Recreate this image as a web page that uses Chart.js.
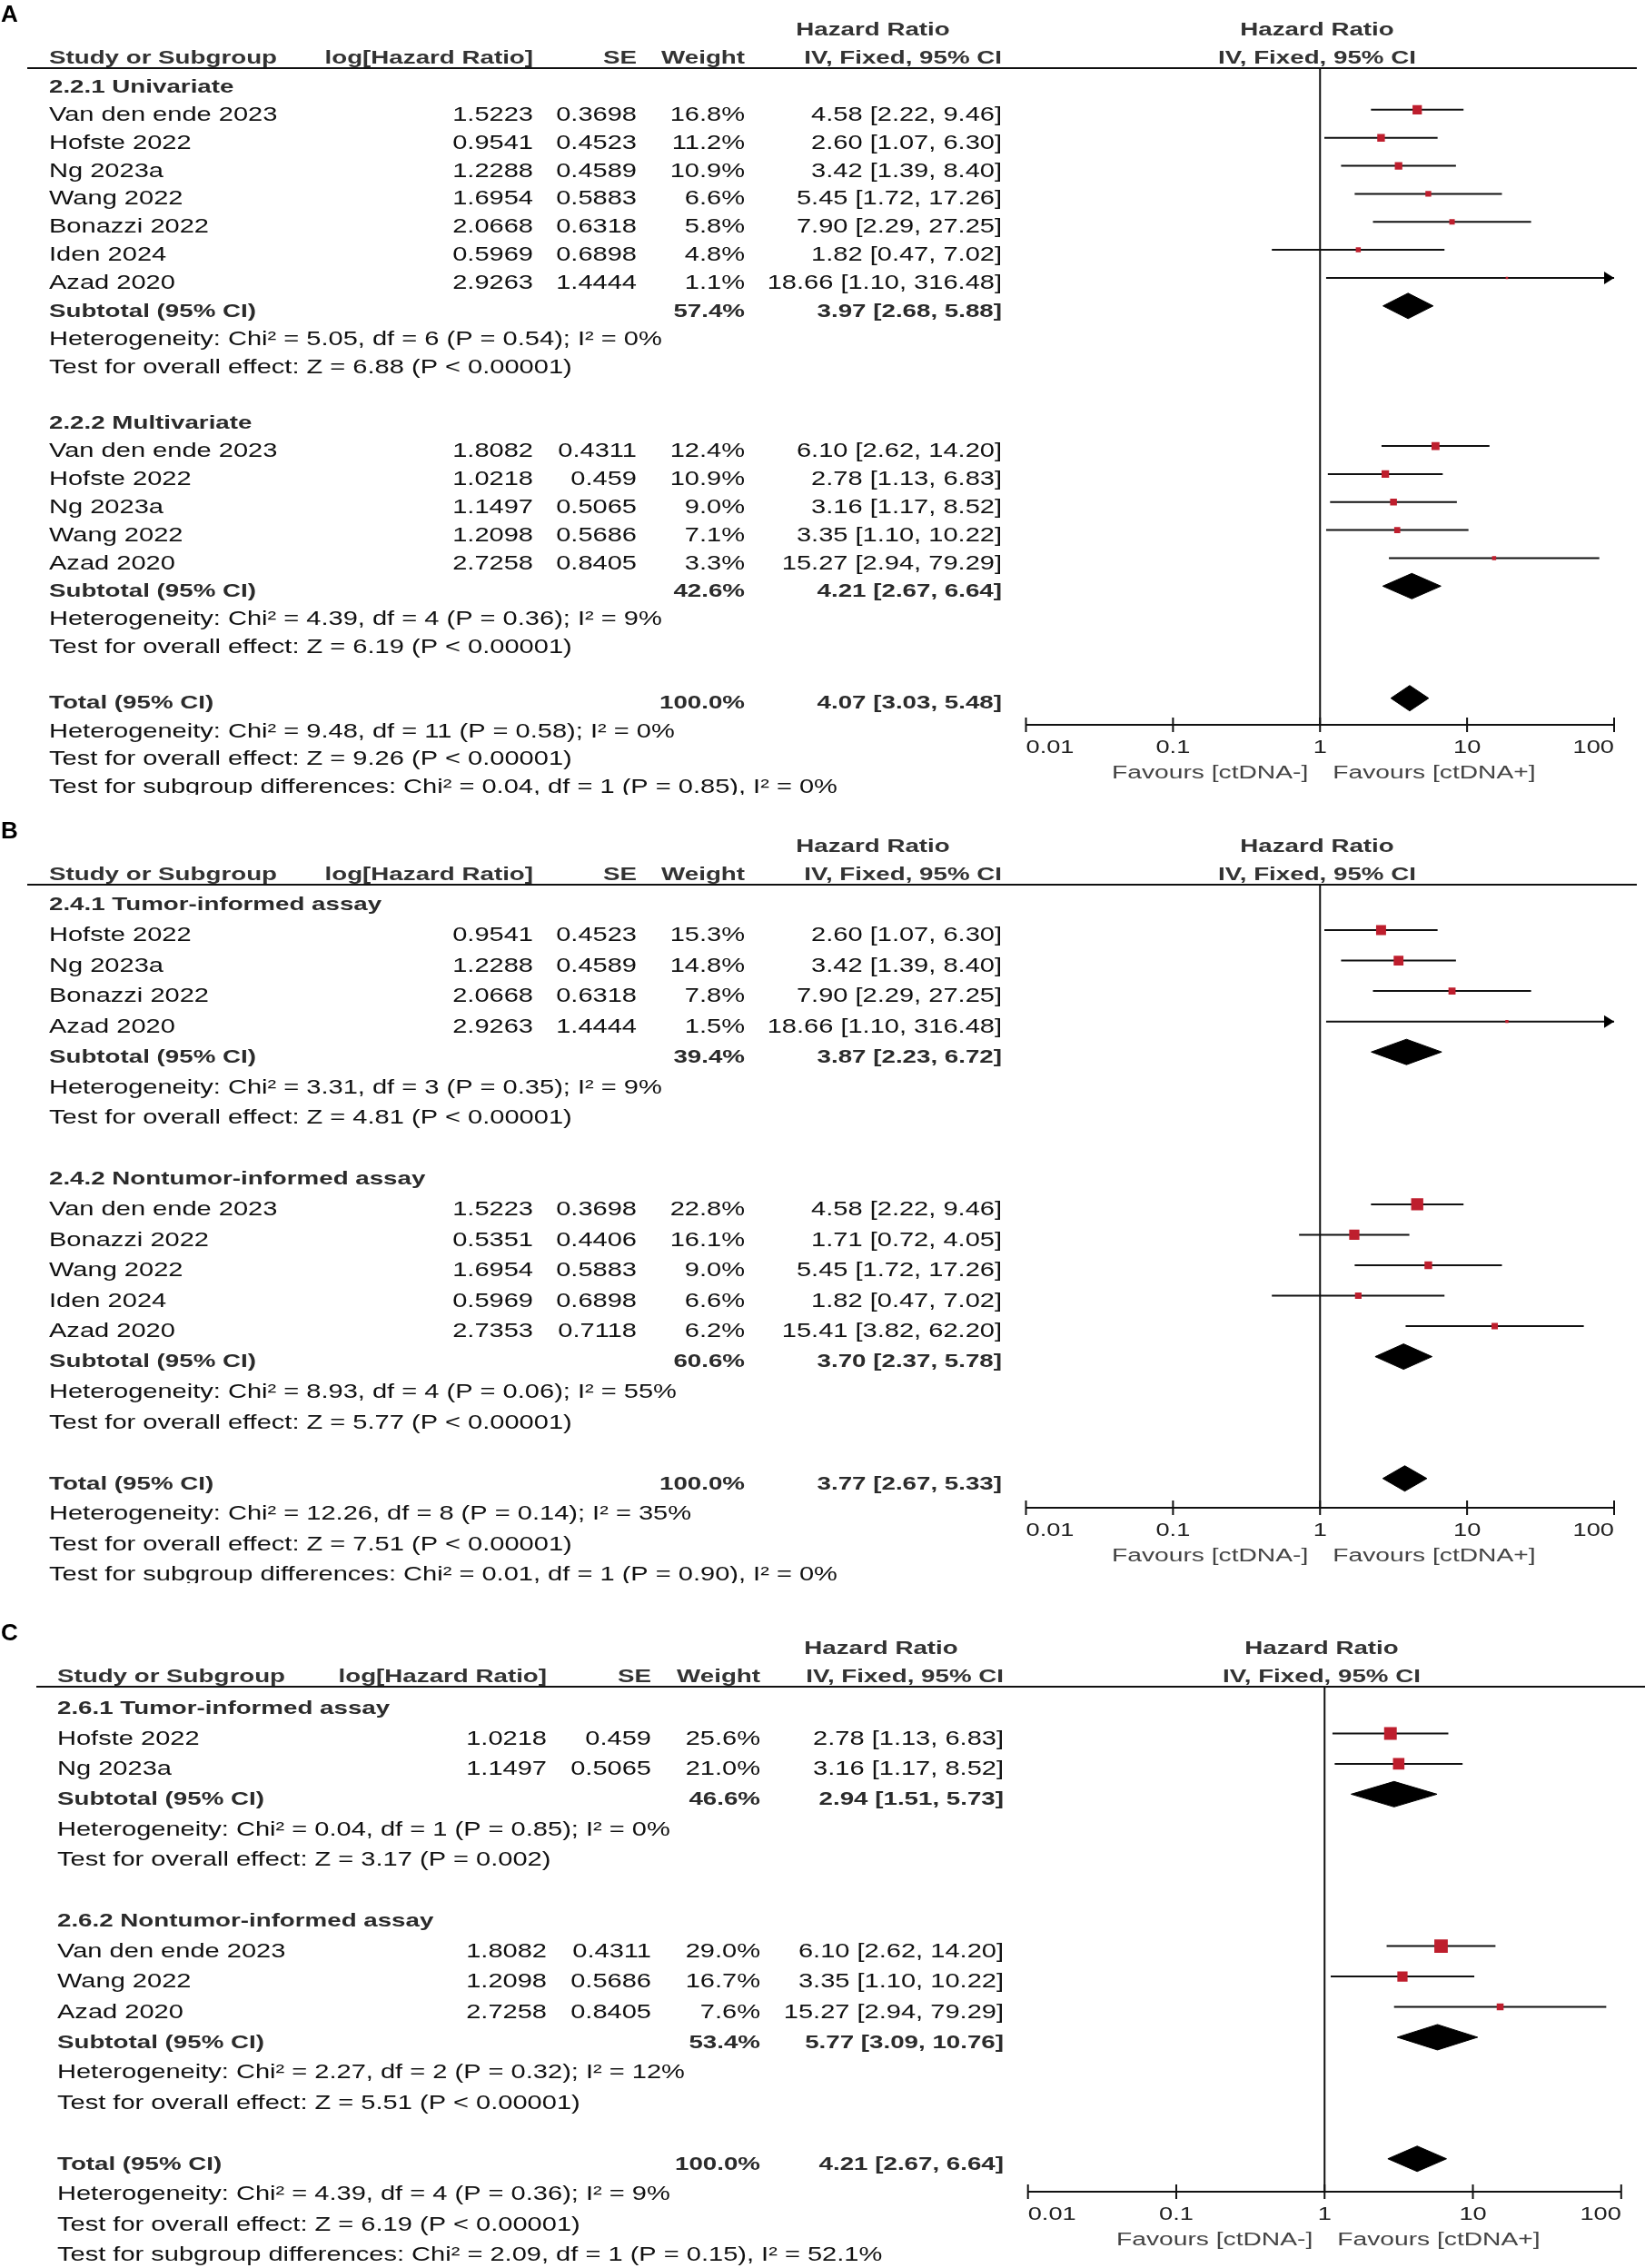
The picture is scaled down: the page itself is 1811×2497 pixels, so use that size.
<!DOCTYPE html>
<html>
<head>
<meta charset="utf-8">
<title>Forest plots - ctDNA hazard ratios</title>
<script src="https://cdn.jsdelivr.net/npm/chart.js@4.4.1/dist/chart.umd.min.js"></script>
<style>
  html, body { margin: 0; padding: 0; background: #fff; }
  body { width: 1811px; height: 2497px; position: relative; overflow: hidden; }
  canvas { position: absolute; left: 0; }
</style>
</head>
<body>
<canvas id="forestA" width="1811" height="875" style="top:0px"></canvas>
<canvas id="forestB" width="1811" height="868" style="top:875px"></canvas>
<canvas id="forestC" width="1811" height="754" style="top:1743px"></canvas>
<script>
// ---------- data: panel A ----------
const studiesA = ['Van den ende 2023', 'Hofste 2022', 'Ng 2023a', 'Wang 2022', 'Bonazzi 2022', 'Iden 2024', 'Azad 2020',
                  'Van den ende 2023', 'Hofste 2022', 'Ng 2023a', 'Wang 2022', 'Azad 2020'];
const groupA = [0, 0, 0, 0, 0, 0, 0, 1, 1, 1, 1, 1];
const logHrA = [1.5223, 0.9541, 1.2288, 1.6954, 2.0668, 0.5969, 2.9263, 1.8082, 1.0218, 1.1497, 1.2098, 2.7258];
const seA = [0.3698, 0.4523, 0.4589, 0.5883, 0.6318, 0.6898, 1.4444, 0.4311, 0.459, 0.5065, 0.5686, 0.8405];
const weightA = [16.8, 11.2, 10.9, 6.6, 5.8, 4.8, 1.1, 12.4, 10.9, 9.0, 7.1, 3.3];
const hrA = [4.58, 2.60, 3.42, 5.45, 7.90, 1.82, 18.66, 6.10, 2.78, 3.16, 3.35, 15.27];
const loA = [2.22, 1.07, 1.39, 1.72, 2.29, 0.47, 1.10, 2.62, 1.13, 1.17, 1.10, 2.94];
const hiA = [9.46, 6.30, 8.40, 17.26, 27.25, 7.02, 316.48, 14.20, 6.83, 8.52, 10.22, 79.29];
const subTitlesA = ['2.2.1 Univariate', '2.2.2 Multivariate'];
const subWeightA = [57.4, 42.6];
const subHrA = [3.97, 4.21];
const subLoA = [2.68, 2.67];
const subHiA = [5.88, 6.64];
const subHetA = ['Heterogeneity: Chi² = 5.05, df = 6 (P = 0.54); I² = 0%', 'Heterogeneity: Chi² = 4.39, df = 4 (P = 0.36); I² = 9%'];
const subTestA = ['Test for overall effect: Z = 6.88 (P < 0.00001)', 'Test for overall effect: Z = 6.19 (P < 0.00001)'];
const totalA = [4.07, 3.03, 5.48];
const totalNotesA = ['Heterogeneity: Chi² = 9.48, df = 11 (P = 0.58); I² = 0%',
                     'Test for overall effect: Z = 9.26 (P < 0.00001)',
                     'Test for subgroup differences: Chi² = 0.04, df = 1 (P = 0.85), I² = 0%'];

// ---------- data: panel B ----------
const studiesB = ['Hofste 2022', 'Ng 2023a', 'Bonazzi 2022', 'Azad 2020',
                  'Van den ende 2023', 'Bonazzi 2022', 'Wang 2022', 'Iden 2024', 'Azad 2020'];
const groupB = [0, 0, 0, 0, 1, 1, 1, 1, 1];
const logHrB = [0.9541, 1.2288, 2.0668, 2.9263, 1.5223, 0.5351, 1.6954, 0.5969, 2.7353];
const seB = [0.4523, 0.4589, 0.6318, 1.4444, 0.3698, 0.4406, 0.5883, 0.6898, 0.7118];
const weightB = [15.3, 14.8, 7.8, 1.5, 22.8, 16.1, 9.0, 6.6, 6.2];
const hrB = [2.60, 3.42, 7.90, 18.66, 4.58, 1.71, 5.45, 1.82, 15.41];
const loB = [1.07, 1.39, 2.29, 1.10, 2.22, 0.72, 1.72, 0.47, 3.82];
const hiB = [6.30, 8.40, 27.25, 316.48, 9.46, 4.05, 17.26, 7.02, 62.20];
const subTitlesB = ['2.4.1 Tumor-informed assay', '2.4.2 Nontumor-informed assay'];
const subWeightB = [39.4, 60.6];
const subHrB = [3.87, 3.70];
const subLoB = [2.23, 2.37];
const subHiB = [6.72, 5.78];
const subHetB = ['Heterogeneity: Chi² = 3.31, df = 3 (P = 0.35); I² = 9%', 'Heterogeneity: Chi² = 8.93, df = 4 (P = 0.06); I² = 55%'];
const subTestB = ['Test for overall effect: Z = 4.81 (P < 0.00001)', 'Test for overall effect: Z = 5.77 (P < 0.00001)'];
const totalB = [3.77, 2.67, 5.33];
const totalNotesB = ['Heterogeneity: Chi² = 12.26, df = 8 (P = 0.14); I² = 35%',
                     'Test for overall effect: Z = 7.51 (P < 0.00001)',
                     'Test for subgroup differences: Chi² = 0.01, df = 1 (P = 0.90), I² = 0%'];

// ---------- data: panel C ----------
const studiesC = ['Hofste 2022', 'Ng 2023a', 'Van den ende 2023', 'Wang 2022', 'Azad 2020'];
const groupC = [0, 0, 1, 1, 1];
const logHrC = [1.0218, 1.1497, 1.8082, 1.2098, 2.7258];
const seC = [0.459, 0.5065, 0.4311, 0.5686, 0.8405];
const weightC = [25.6, 21.0, 29.0, 16.7, 7.6];
const hrC = [2.78, 3.16, 6.10, 3.35, 15.27];
const loC = [1.13, 1.17, 2.62, 1.10, 2.94];
const hiC = [6.83, 8.52, 14.20, 10.22, 79.29];
const subTitlesC = ['2.6.1 Tumor-informed assay', '2.6.2 Nontumor-informed assay'];
const subWeightC = [46.6, 53.4];
const subHrC = [2.94, 5.77];
const subLoC = [1.51, 3.09];
const subHiC = [5.73, 10.76];
const subHetC = ['Heterogeneity: Chi² = 0.04, df = 1 (P = 0.85); I² = 0%', 'Heterogeneity: Chi² = 2.27, df = 2 (P = 0.32); I² = 12%'];
const subTestC = ['Test for overall effect: Z = 3.17 (P = 0.002)', 'Test for overall effect: Z = 5.51 (P < 0.00001)'];
const totalC = [4.21, 2.67, 6.64];
const totalNotesC = ['Heterogeneity: Chi² = 4.39, df = 4 (P = 0.36); I² = 9%',
                     'Test for overall effect: Z = 6.19 (P < 0.00001)',
                     'Test for subgroup differences: Chi² = 2.09, df = 1 (P = 0.15), I² = 52.1%'];

// ---------- shared labels ----------
const axisTicks = [0.01, 0.1, 1, 10, 100];
const axisTickLabels = ['0.01', '0.1', '1', '10', '100'];
const favoursLabels = ['Favours [ctDNA-]', 'Favours [ctDNA+]'];
const columnHeaders = ['Study or Subgroup', 'log[Hazard Ratio]', 'SE', 'Weight', 'IV, Fixed, 95% CI'];
const methodHeader = ['Hazard Ratio', 'IV, Fixed, 95% CI'];

// ---------- layout (pixels, per canvas) ----------
const W = 1811;
const layoutA = { letter: 'A', lineY: 75, axisY: 798, row0: 90, pitch: 30.85, left: 1129.5, right: 1777,
  lineLeft: 30, lineRight: 1802, cols: [54, 587, 701, 820, 1103], hrHeadX: 961, plotHeadX: 1450, sq: 2.5 };
const layoutB = { letter: 'B', lineY: 99, axisY: 785, row0: 115.5, pitch: 33.54, left: 1129.5, right: 1777,
  lineLeft: 30, lineRight: 1802, cols: [54, 587, 701, 820, 1103], hrHeadX: 961, plotHeadX: 1450, sq: 2.8 };
const layoutC = { letter: 'C', lineY: 114, axisY: 670, row0: 132, pitch: 33.45, left: 1131.7, right: 1784.8,
  lineLeft: 40, lineRight: 1811, cols: [63, 602, 717, 837, 1105], hrHeadX: 970, plotHeadX: 1455, sq: 2.75 };

const FONT = '"Liberation Sans", Arial, sans-serif';
const SX = 1.32;          // the source text is drawn wide
const TEXT_DY = 6;        // text sits a little below the marker line
const DIAMOND_HALF = 14;  // px
const SQUARE_RED = '#be1e2d';

function drawText(ctx, s, x, y, align, o) {
  o = o || {};
  const sx = o.sx || SX;
  ctx.save();
  ctx.font = (o.bold ? 'bold ' : '') + (o.size || 22) + 'px ' + FONT;
  ctx.fillStyle = o.color || '#111';
  ctx.textBaseline = 'middle';
  ctx.textAlign = 'left';
  const w = ctx.measureText(s).width * sx;
  let x0 = x;
  if (align === 'right') x0 = x - w;
  else if (align === 'center') x0 = x - w / 2;
  ctx.translate(x0, y);
  ctx.scale(sx, 1);
  ctx.fillText(s, 0, 0);
  ctx.restore();
}

function buildRows(p) {
  const rows = [];
  let r = 0;
  p.titles.forEach((title, g) => {
    rows.push({ r: r++, kind: 'title', text: title });
    p.studies.forEach((name, i) => {
      if (p.group[i] === g) rows.push({ r: r++, kind: 'study', i: i });
    });
    rows.push({ r: r++, kind: 'subtotal', g: g });
    rows.push({ r: r++, kind: 'note', text: p.subHet[g] });
    rows.push({ r: r++, kind: 'note', text: p.subTest[g] });
    r++; // blank line
  });
  rows.push({ r: r++, kind: 'total' });
  p.totalNotes.forEach(t => rows.push({ r: r++, kind: 'note', text: t }));
  return rows;
}

function ciText(hr, lo, hi) {
  return hr.toFixed(2) + ' [' + lo.toFixed(2) + ', ' + hi.toFixed(2) + ']';
}

function buildDatasets(p, rows, L) {
  const ds = [];
  const squares = [];
  const radii = [];
  const h = DIAMOND_HALF / L.pitch;
  rows.forEach(row => {
    if (row.kind === 'study') {
      const i = row.i;
      ds.push({
        type: 'line',
        data: [{ x: p.lo[i], y: row.r }, { x: p.hi[i], y: row.r }],
        borderColor: '#111', borderWidth: 2, pointRadius: 0, order: 2
      });
      squares.push({ x: p.hr[i], y: row.r });
      radii.push(Math.max(2.6, L.sq * Math.sqrt(p.weight[i])) / Math.SQRT2);
    } else if (row.kind === 'subtotal' || row.kind === 'total') {
      const est = row.kind === 'total' ? p.total[0] : p.subHr[row.g];
      const lo = row.kind === 'total' ? p.total[1] : p.subLo[row.g];
      const hi = row.kind === 'total' ? p.total[2] : p.subHi[row.g];
      ds.push({
        type: 'line',
        data: [{ x: lo, y: row.r }, { x: est, y: row.r - h }, { x: hi, y: row.r },
               { x: est, y: row.r + h }, { x: lo, y: row.r }],
        fill: 'shape', backgroundColor: '#000', borderColor: '#000', borderWidth: 1,
        pointRadius: 0, order: 1
      });
    }
  });
  ds.push({
    type: 'line',
    data: squares,
    showLine: false,
    pointStyle: 'rect',
    pointRadius: radii,
    pointBackgroundColor: SQUARE_RED,
    pointBorderColor: SQUARE_RED,
    pointBorderWidth: 0,
    order: 0
  });
  return ds;
}

function makeDecor(p, rows, L) {
  return {
    id: 'forestDecor',
    beforeDatasetsDraw(chart) {
      const ctx = chart.ctx, a = chart.chartArea, xs = chart.scales.x;
      ctx.save();
      ctx.strokeStyle = '#111';
      ctx.lineWidth = 2;
      // header rule
      ctx.beginPath();
      ctx.moveTo(L.lineLeft, a.top);
      ctx.lineTo(L.lineRight, a.top);
      ctx.stroke();
      // line of no effect
      const x1 = xs.getPixelForValue(1);
      ctx.beginPath();
      ctx.moveTo(x1, a.top);
      ctx.lineTo(x1, a.bottom);
      ctx.stroke();
      ctx.restore();
    },
    afterDatasetsDraw(chart) {
      // arrow heads where the CI runs past the axis
      const ctx = chart.ctx, xs = chart.scales.x, ys = chart.scales.y;
      const xEnd = xs.getPixelForValue(xs.max);
      ctx.save();
      ctx.fillStyle = '#000';
      rows.forEach(row => {
        if (row.kind !== 'study' || p.hi[row.i] <= xs.max) return;
        const y = ys.getPixelForValue(row.r);
        ctx.beginPath();
        ctx.moveTo(xEnd, y);
        ctx.lineTo(xEnd - 11, y - 7);
        ctx.lineTo(xEnd - 11, y + 7);
        ctx.closePath();
        ctx.fill();
      });
      ctx.restore();
    },
    afterDraw(chart) {
      const ctx = chart.ctx, a = chart.chartArea, xs = chart.scales.x, ys = chart.scales.y;
      // axis
      ctx.save();
      ctx.strokeStyle = '#111';
      ctx.lineWidth = 2;
      const xa = xs.getPixelForValue(axisTicks[0]);
      const xb = xs.getPixelForValue(axisTicks[axisTicks.length - 1]);
      ctx.beginPath();
      ctx.moveTo(xa, a.bottom);
      ctx.lineTo(xb, a.bottom);
      axisTicks.forEach(t => {
        const px = xs.getPixelForValue(t);
        ctx.moveTo(px, a.bottom - 8);
        ctx.lineTo(px, a.bottom + 8);
      });
      ctx.stroke();
      ctx.restore();
      axisTicks.forEach((t, k) => {
        const px = xs.getPixelForValue(t);
        const align = k === 0 ? 'left' : (k === axisTicks.length - 1 ? 'right' : 'center');
        drawText(ctx, axisTickLabels[k], px, a.bottom + 25, align, { size: 20, color: '#222', sx: 1.36 });
      });
      const x1 = xs.getPixelForValue(1);
      drawText(ctx, favoursLabels[0], x1 - 13, a.bottom + 53, 'right', { size: 20, color: '#444', sx: 1.41 });
      drawText(ctx, favoursLabels[1], x1 + 14, a.bottom + 53, 'left', { size: 20, color: '#444', sx: 1.41 });

      // headers
      const c = L.cols;
      drawText(ctx, L.letter, 1, a.top - 58, 'left', { bold: true, size: 26, color: '#000', sx: 1 });
      drawText(ctx, methodHeader[0], L.hrHeadX, a.top - 42, 'center', { bold: true, size: 21, color: '#333' });
      drawText(ctx, methodHeader[0], L.plotHeadX, a.top - 42, 'center', { bold: true, size: 21, color: '#333' });
      const hy = a.top - 11;
      const hb = { bold: true, size: 21, color: '#333' };
      drawText(ctx, columnHeaders[0], c[0], hy, 'left', hb);
      drawText(ctx, columnHeaders[1], c[1], hy, 'right', hb);
      drawText(ctx, columnHeaders[2], c[2], hy, 'right', hb);
      drawText(ctx, columnHeaders[3], c[3], hy, 'right', hb);
      drawText(ctx, columnHeaders[4], c[4], hy, 'right', hb);
      drawText(ctx, methodHeader[1], L.plotHeadX, hy, 'center', hb);

      // table rows
      const bold = { bold: true, size: 21, color: '#2b2b2b' };
      const reg = { size: 22, color: '#111' };
      rows.forEach(row => {
        const y = ys.getPixelForValue(row.r) + TEXT_DY;
        if (row.kind === 'title') {
          drawText(ctx, row.text, c[0], y, 'left', bold);
        } else if (row.kind === 'note') {
          drawText(ctx, row.text, c[0], y, 'left', reg);
        } else if (row.kind === 'study') {
          const i = row.i;
          drawText(ctx, p.studies[i], c[0], y, 'left', reg);
          drawText(ctx, String(p.logHr[i]), c[1], y, 'right', reg);
          drawText(ctx, String(p.se[i]), c[2], y, 'right', reg);
          drawText(ctx, p.weight[i].toFixed(1) + '%', c[3], y, 'right', reg);
          drawText(ctx, ciText(p.hr[i], p.lo[i], p.hi[i]), c[4], y, 'right', reg);
        } else if (row.kind === 'subtotal') {
          const g = row.g;
          drawText(ctx, 'Subtotal (95% CI)', c[0], y, 'left', bold);
          drawText(ctx, p.subWeight[g].toFixed(1) + '%', c[3], y, 'right', bold);
          drawText(ctx, ciText(p.subHr[g], p.subLo[g], p.subHi[g]), c[4], y, 'right', bold);
        } else if (row.kind === 'total') {
          drawText(ctx, 'Total (95% CI)', c[0], y, 'left', bold);
          drawText(ctx, (100).toFixed(1) + '%', c[3], y, 'right', bold);
          drawText(ctx, ciText(p.total[0], p.total[1], p.total[2]), c[4], y, 'right', bold);
        }
      });
    }
  };
}

function renderForest(canvasId, p, L) {
  const canvas = document.getElementById(canvasId);
  const H = canvas.height;
  const rows = buildRows(p);
  return new Chart(canvas, {
    type: 'line',
    data: { datasets: buildDatasets(p, rows, L) },
    options: {
      responsive: false,
      devicePixelRatio: 1,
      animation: false,
      events: [],
      layout: { padding: { left: L.left, right: W - L.right, top: L.lineY, bottom: H - L.axisY } },
      plugins: { legend: { display: false }, tooltip: { enabled: false } },
      scales: {
        x: { type: 'logarithmic', min: axisTicks[0], max: axisTicks[axisTicks.length - 1], display: false },
        y: { type: 'linear', reverse: true, display: false,
             min: (L.lineY - L.row0) / L.pitch, max: (L.axisY - L.row0) / L.pitch }
      }
    },
    plugins: [makeDecor(p, rows, L)]
  });
}

renderForest('forestA', {
  studies: studiesA, group: groupA, logHr: logHrA, se: seA, weight: weightA, hr: hrA, lo: loA, hi: hiA,
  titles: subTitlesA, subWeight: subWeightA, subHr: subHrA, subLo: subLoA, subHi: subHiA,
  subHet: subHetA, subTest: subTestA, total: totalA, totalNotes: totalNotesA
}, layoutA);

renderForest('forestB', {
  studies: studiesB, group: groupB, logHr: logHrB, se: seB, weight: weightB, hr: hrB, lo: loB, hi: hiB,
  titles: subTitlesB, subWeight: subWeightB, subHr: subHrB, subLo: subLoB, subHi: subHiB,
  subHet: subHetB, subTest: subTestB, total: totalB, totalNotes: totalNotesB
}, layoutB);

renderForest('forestC', {
  studies: studiesC, group: groupC, logHr: logHrC, se: seC, weight: weightC, hr: hrC, lo: loC, hi: hiC,
  titles: subTitlesC, subWeight: subWeightC, subHr: subHrC, subLo: subLoC, subHi: subHiC,
  subHet: subHetC, subTest: subTestC, total: totalC, totalNotes: totalNotesC
}, layoutC);
</script>
</body>
</html>
